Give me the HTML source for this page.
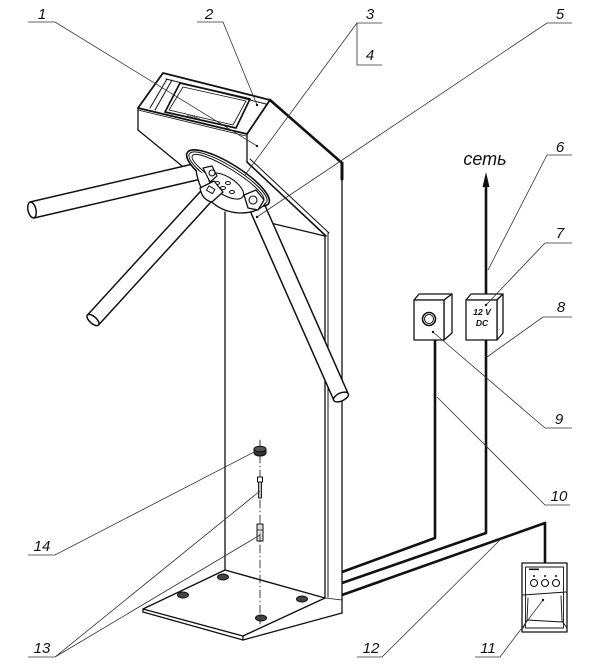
<!DOCTYPE html>
<html><head><meta charset="utf-8"><style>
html,body{margin:0;padding:0;background:#fff;}
svg{display:block;}
text{font-family:"Liberation Sans",sans-serif;font-style:italic;fill:#111;}
</style></head><body>
<svg width="612" height="665" viewBox="0 0 612 665" xmlns="http://www.w3.org/2000/svg">
<rect width="612" height="665" fill="#fff"/>
<g fill="none" stroke="#111" stroke-width="1.3" stroke-linejoin="round" stroke-linecap="round">
<!-- head top face -->
<polygon points="163,73 270,100 247,134 138,108" fill="#fff" stroke-width="1.8"/>
<line x1="166" y1="79" x2="266" y2="104" stroke-width="1"/>
<line x1="167" y1="79" x2="150" y2="108" stroke-width="1"/>
<line x1="172" y1="80" x2="155" y2="110" stroke-width="1"/>
<polygon points="180,83 250,99 236,128 165,112" stroke-width="1.7"/>
<polygon points="183,87 246,101 233,125 169,110" stroke-width="0.8"/>
<line x1="138" y1="110" x2="246" y2="136" stroke-width="0.8"/>
<!-- head front -->
<line x1="138" y1="108" x2="138" y2="130"/>
<line x1="247" y1="134" x2="247" y2="162"/>
<!-- right side top -->
<line x1="270" y1="100" x2="342" y2="163" stroke-width="2.6"/>
<line x1="342" y1="163" x2="342" y2="179" stroke-width="3"/>
<line x1="342" y1="163" x2="342" y2="613"/>
<!-- slanted front-right edge -->
<line x1="247" y1="162" x2="326" y2="236" stroke-width="1.6"/>
<line x1="250" y1="159" x2="329" y2="233" stroke-width="1"/>
<line x1="325" y1="236" x2="325" y2="598"/>
<line x1="328" y1="233" x2="328" y2="597" stroke-width="1"/>
<!-- underside -->
<line x1="138" y1="130" x2="182" y2="166"/>
<line x1="262" y1="221" x2="325" y2="236"/>
<line x1="225" y1="212" x2="225" y2="570"/>
<!-- base plate -->
<polygon points="143,609 225,570 325,598 243,636" fill="#fff" stroke-width="1.4"/>
<line x1="143" y1="609" x2="143" y2="612"/>
<line x1="143" y1="612" x2="243" y2="640"/>
<line x1="243" y1="636" x2="243" y2="640"/>
<line x1="243" y1="640" x2="342" y2="613"/>
<line x1="325" y1="598" x2="342" y2="600" stroke-width="0.8"/>
<g fill="#444" stroke-width="1">
<ellipse cx="223" cy="577" rx="5.5" ry="3"/>
<ellipse cx="183" cy="595" rx="5.5" ry="3"/>
<ellipse cx="302" cy="599" rx="5.5" ry="3"/>
<ellipse cx="261" cy="618" rx="5.5" ry="3"/>
</g>
<!-- axis line and fasteners -->
<line x1="260" y1="440" x2="260" y2="624" stroke-width="0.8" stroke-dasharray="8 3 1 3"/>
<path d="M254,449 L254,453 A6,3 0 0 0 266,453 L266,449" fill="#333" stroke-width="1"/>
<ellipse cx="260" cy="449" rx="6" ry="2.8" fill="#555" stroke-width="1"/>
<rect x="257.5" y="477" width="5" height="5" fill="#fff" stroke-width="1"/>
<rect x="258.5" y="482" width="3" height="16" fill="#bbb" stroke-width="0.9"/>
<rect x="257" y="524" width="6" height="17" fill="#ddd" stroke-width="1"/>
<line x1="257" y1="530" x2="263" y2="530" stroke-width="0.7"/>
<line x1="260" y1="534" x2="260" y2="541" stroke-width="0.7"/>
<!-- wires -->
<g stroke-width="2.6" stroke-linecap="butt">
<polyline points="435,340 435,538 342,572"/>
<polyline points="486,184 486,533 342,583"/>
<polyline points="342,595 545,523 545,564"/>
</g>
<polygon points="486,172 482.5,187 489.5,187" fill="#111" stroke="none"/>
<!-- button box 9 -->
<polygon points="414,300 419,294 452,294 444,300" fill="#fff"/>
<polygon points="444,300 452,294 452,333 444,340" fill="#fff"/>
<rect x="414" y="300" width="30" height="40" fill="#fff"/>
<circle cx="429" cy="319" r="6.5" stroke-width="1.6"/>
<circle cx="429" cy="319" r="4.5" stroke-width="1"/>
<!-- power box 7 -->
<polygon points="466,300 471,294 503,294 497,300" fill="#fff"/>
<polygon points="497,300 503,294 503,333 497,340" fill="#fff"/>
<rect x="466" y="300" width="31" height="40" fill="#fff"/>
<!-- controller 11 -->
<rect x="522" y="563" width="45" height="69" fill="#fff"/>
<rect x="525.5" y="567" width="38" height="61" stroke-width="0.9"/>
<line x1="523" y1="595" x2="566" y2="592" stroke-width="1"/>
<polyline points="528,598 527,620 523,628" stroke-width="0.9"/>
<polyline points="561,596 562,621 567,628" stroke-width="0.9"/>
<line x1="527" y1="620" x2="562" y2="622" stroke-width="0.9"/>
<circle cx="534" cy="583" r="3.5" stroke-width="1.1"/>
<circle cx="545" cy="583" r="3.5" stroke-width="1.1"/>
<circle cx="556" cy="583" r="3.5" stroke-width="1.1"/>
<g fill="#111" stroke="none">
<circle cx="534" cy="576" r="1"/><circle cx="545" cy="576" r="1"/><circle cx="556" cy="576" r="1"/>
<rect x="529" y="568.5" width="10" height="1.6"/>
</g>
<!-- arms -->
<polygon points="193,164 30,202 34,218 197,180" fill="#fff" stroke="none"/>
<line x1="193" y1="164" x2="30" y2="202" stroke-width="1.5"/>
<line x1="197" y1="180" x2="34" y2="218" stroke-width="1.5"/>
<ellipse cx="32" cy="210" rx="4" ry="8" transform="rotate(167 32 210)" fill="#fff" stroke-width="1.5"/>
<polygon points="204.5,187 87.5,315 98.5,325 215.5,197" fill="#fff" stroke="none"/>
<line x1="204.5" y1="187" x2="87.5" y2="315" stroke-width="1.5"/>
<line x1="215.5" y1="197" x2="98.5" y2="325" stroke-width="1.5"/>
<ellipse cx="93" cy="320" rx="3.5" ry="7.5" transform="rotate(132 93 320)" fill="#fff" stroke-width="1.5"/>
<polygon points="249.7,210 333.7,400 348.3,394 264.3,204" fill="#fff" stroke="none"/>
<line x1="249.7" y1="210" x2="333.7" y2="400" stroke-width="1.5"/>
<line x1="264.3" y1="204" x2="348.3" y2="394" stroke-width="1.5"/>
<ellipse cx="341" cy="397" rx="4" ry="8" transform="rotate(66 341 397)" fill="#fff" stroke-width="1.5"/>
<!-- hub -->
<g transform="rotate(32 228 178)">
<ellipse cx="228" cy="178" rx="48" ry="14" fill="#fff" stroke-width="1.6"/>
<ellipse cx="228" cy="178" rx="45.5" ry="11.5" stroke-width="1"/>
<ellipse cx="228" cy="178" rx="42" ry="9" stroke-width="1"/>
</g>
<path d="M196,170 C200,198 218,212 240,213 C252,213 260,210 265,204" fill="#fff" stroke-width="1.3"/>
<ellipse cx="226" cy="186" rx="20" ry="9" transform="rotate(32 226 186)" fill="#fff" stroke-width="1.1"/>
<g fill="#fff" stroke-width="1">
<ellipse cx="217" cy="183" rx="2.5" ry="1.5"/><ellipse cx="228" cy="183" rx="2.5" ry="1.5"/>
<ellipse cx="223" cy="188" rx="2.5" ry="1.5"/><ellipse cx="232" cy="192" rx="2.5" ry="1.5"/>
</g>
<path d="M203,168 L212,166 L217,176 L210,182 Z" fill="#fff" stroke-width="1.2"/>
<circle cx="212" cy="173" r="3" stroke-width="1.1"/>
<path d="M200,188 L214,181 L223,192 L212,202 Q202,200 200,188 Z" fill="#fff" stroke-width="1.3"/>
<rect x="207" y="187" width="7" height="5" transform="rotate(30 210 190)" stroke-width="1"/>
<path d="M244,195 L256,190 L264,200 L258,210 L248,208 Z" fill="#fff" stroke-width="1.3"/>
<circle cx="253" cy="200" r="4" stroke-width="1.1"/>
</g>
<!-- small text on boxes -->
<text x="482" y="315" font-size="8.5" font-weight="bold" text-anchor="middle">12 V</text>
<text x="482" y="326" font-size="8.5" font-weight="bold" text-anchor="middle">DC</text>
<text x="193" y="119" font-size="4" font-weight="bold" text-anchor="middle" transform="rotate(13 193 119)">PERCo</text>
<!-- leaders -->
<g stroke="#333" stroke-width="0.8" fill="none">
<polyline points="28,22 55,22 257,146"/>
<polyline points="197,22 223,22 257,105"/>
<polyline points="382,23 357,23 357,65 382,65"/>
<line x1="357" y1="23" x2="245" y2="175"/>
<polyline points="572,23 547,23 257,217"/>
<polyline points="572,155 547,155 488,270"/>
<polyline points="572,243 545,243 486,305"/>
<polyline points="572,317 543,317 487,357"/>
<polyline points="572,428 545,428 433,332"/>
<polyline points="570,505 545,505 437,397"/>
<polyline points="475,657 500,657 543,600"/>
<polyline points="357,657 382,657 500,540"/>
<polyline points="28,657 55,657 260,491"/>
<line x1="55" y1="657" x2="260" y2="535"/>
<polyline points="28,555 55,555 256,451"/>
</g>
<g fill="#111">
<circle cx="257" cy="146" r="1.2"/><circle cx="257" cy="105" r="1.2"/>
<circle cx="257" cy="217" r="1.2"/><circle cx="486" cy="305" r="1.2"/>
<circle cx="433" cy="332" r="1.2"/><circle cx="543" cy="600" r="1.2"/>
</g>
<!-- labels -->
<g font-size="15" text-anchor="middle">
<text x="42" y="19">1</text>
<text x="209" y="19">2</text>
<text x="370" y="19">3</text>
<text x="370" y="60">4</text>
<text x="560" y="19">5</text>
<text x="560" y="152">6</text>
<text x="560" y="238">7</text>
<text x="561" y="312">8</text>
<text x="559" y="424">9</text>
<text x="559" y="501">10</text>
<text x="488" y="653">11</text>
<text x="371" y="653">12</text>
<text x="42" y="653">13</text>
<text x="42" y="551">14</text>
</g>
<text x="485" y="165" font-size="18" text-anchor="middle">сеть</text>
</svg>
</body></html>
